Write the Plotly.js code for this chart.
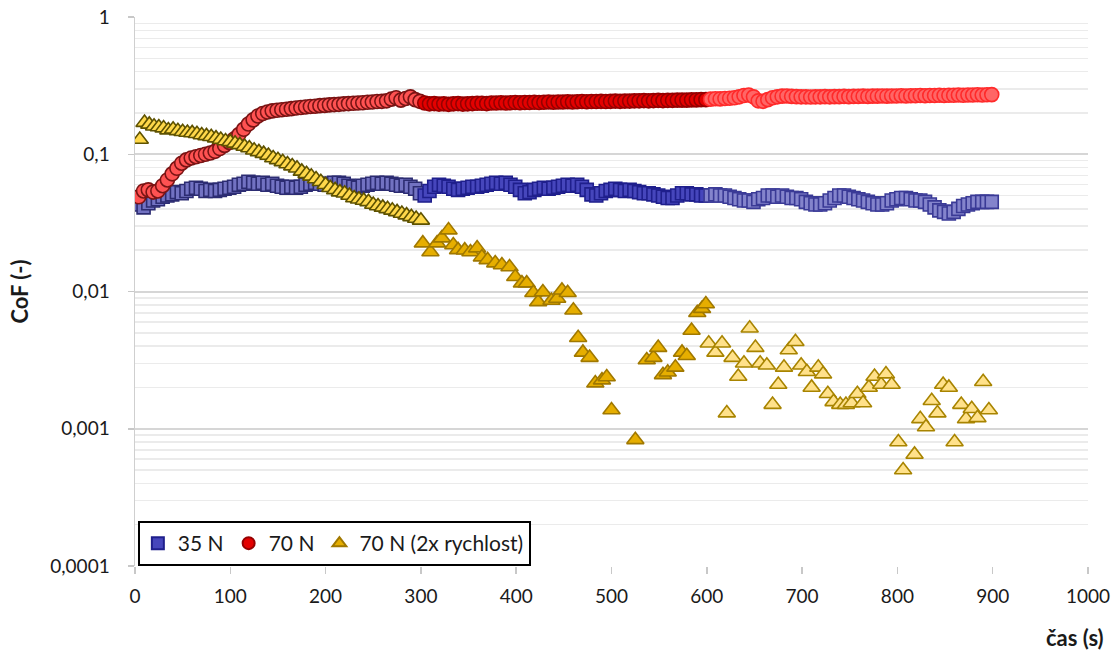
<!DOCTYPE html>
<html>
<head>
<meta charset="utf-8">
<script src="https://cdn.plot.ly/plotly-3.0.1.min.js"></script>
<style>
html,body{margin:0;padding:0;background:#fff;}
#chart{width:1116px;height:653px;}
</style>
</head>
<body>
<div id="chart"></div>
<script>
// ---- data (time in s, CoF) ----
const timeRB = [4,9,14,19,24,29,34,39,44,49,54,59,64,69,74,79,84,89,94,99,104,109,114,119,124,129,134,139,144,149,154,159,164,169,174,179,184,189,194,199,204,209,214,219,224,229,234,239,244,249,254,259,264,269,274,279,284,289,294,299,304,309,314,319,324,329,334,339,344,349,354,359,364,369,374,379,384,389,394,399,404,409,414,419,424,429,434,439,444,449,454,459,464,469,474,479,484,489,494,499,504,509,514,519,524,529,534,539,544,549,554,559,564,569,574,579,584,589,594,599,604,609,614,619,624,629,634,639,644,649,654,659,664,669,674,679,684,689,694,699,704,709,714,719,724,729,734,739,744,749,754,759,764,769,774,779,784,789,794,799,804,809,814,819,824,829,834,839,844,849,854,859,864,869,874,879,884,889,894,899];

const cof35N = [0.043,0.041,0.044,0.046,0.047,0.049,0.050,0.051,0.053,0.052,0.054,0.056,0.057,0.056,0.054,0.055,0.054,0.055,0.056,0.057,0.058,0.060,0.061,0.063,0.062,0.061,0.062,0.060,0.061,0.059,0.058,0.057,0.058,0.057,0.058,0.060,0.061,0.062,0.061,0.060,0.061,0.062,0.062,0.061,0.059,0.058,0.057,0.059,0.060,0.061,0.062,0.061,0.062,0.061,0.060,0.059,0.060,0.058,0.056,0.052,0.050,0.054,0.058,0.060,0.059,0.058,0.056,0.055,0.056,0.057,0.058,0.058,0.059,0.060,0.061,0.062,0.061,0.062,0.060,0.058,0.055,0.052,0.053,0.055,0.056,0.057,0.056,0.057,0.058,0.059,0.060,0.059,0.060,0.058,0.055,0.051,0.050,0.052,0.054,0.055,0.056,0.055,0.054,0.055,0.054,0.053,0.052,0.052,0.051,0.050,0.049,0.048,0.048,0.050,0.052,0.052,0.051,0.051,0.050,0.050,0.050,0.051,0.050,0.050,0.049,0.048,0.047,0.046,0.046,0.045,0.047,0.048,0.050,0.050,0.049,0.050,0.049,0.048,0.048,0.047,0.045,0.044,0.043,0.043,0.044,0.046,0.048,0.050,0.050,0.049,0.048,0.047,0.046,0.045,0.044,0.043,0.043,0.044,0.046,0.047,0.048,0.048,0.047,0.046,0.046,0.045,0.043,0.041,0.039,0.038,0.037,0.038,0.040,0.042,0.043,0.044,0.045,0.045,0.045,0.045];

const cof70N = [0.049,0.054,0.055,0.053,0.054,0.059,0.065,0.072,0.079,0.086,0.091,0.094,0.096,0.098,0.100,0.102,0.105,0.110,0.116,0.122,0.129,0.139,0.152,0.166,0.178,0.190,0.198,0.203,0.207,0.209,0.211,0.213,0.215,0.217,0.219,0.221,0.223,0.224,0.226,0.227,0.229,0.230,0.231,0.233,0.234,0.235,0.236,0.237,0.239,0.240,0.242,0.243,0.245,0.252,0.258,0.248,0.255,0.262,0.250,0.243,0.236,0.233,0.234,0.232,0.233,0.231,0.233,0.234,0.232,0.233,0.234,0.235,0.235,0.234,0.236,0.236,0.237,0.236,0.237,0.238,0.237,0.238,0.238,0.239,0.238,0.239,0.240,0.239,0.240,0.240,0.241,0.240,0.241,0.242,0.241,0.242,0.242,0.243,0.242,0.243,0.244,0.243,0.244,0.244,0.245,0.245,0.246,0.245,0.246,0.247,0.246,0.247,0.247,0.248,0.248,0.248,0.249,0.249,0.250,0.250,0.252,0.254,0.253,0.255,0.256,0.258,0.262,0.268,0.270,0.262,0.245,0.243,0.250,0.258,0.262,0.265,0.266,0.264,0.263,0.262,0.262,0.261,0.262,0.262,0.263,0.262,0.263,0.263,0.264,0.263,0.264,0.264,0.265,0.264,0.265,0.265,0.266,0.265,0.266,0.266,0.267,0.266,0.267,0.267,0.268,0.267,0.268,0.268,0.269,0.268,0.269,0.269,0.270,0.269,0.270,0.270,0.271,0.270,0.271,0.272];

const timeTri = [5,10,15,20,25,30,35,40,45,50,55,60,65,70,75,80,85,90,95,100,105,110,115,120,125,130,135,140,145,150,155,160,165,170,175,180,185,190,195,200,205,210,215,220,225,230,235,240,245,250,255,260,265,270,275,280,285,290,295,300,
  302,310,317,322,329,334,339,346,352,359,364,370,378,385,393,399,406,411,418,423,428,437,443,448,454,460,465,470,477,483,490,495,500,525,537,544,549,554,559,567,574,579,584,590,595,599,
  602,609,616,621,627,633,639,645,651,656,663,669,675,681,686,693,699,705,710,717,722,727,733,740,746,752,758,764,770,776,783,788,794,801,806,818,824,830,836,842,848,854,860,867,872,878,884,890,896];

const cof70N2x = [0.128,0.170,0.165,0.160,0.158,0.155,0.150,0.152,0.148,0.146,0.144,0.143,0.141,0.138,0.136,0.134,0.131,0.128,0.125,0.123,0.120,0.117,0.114,0.111,0.107,0.104,0.101,0.098,0.094,0.091,0.088,0.085,0.082,0.079,0.075,0.072,0.069,0.066,0.063,0.060,0.057,0.055,0.053,0.052,0.050,0.048,0.047,0.046,0.045,0.043,0.042,0.041,0.040,0.039,0.038,0.037,0.036,0.035,0.034,0.033,
  0.0225,0.0194,0.0225,0.0245,0.028,0.0218,0.0201,0.020,0.0194,0.0207,0.0178,0.0170,0.0161,0.0156,0.0151,0.0128,0.0115,0.0115,0.0098,0.0084,0.0099,0.0086,0.0089,0.0102,0.0098,0.0073,0.0046,0.0036,0.0033,0.00215,0.00226,0.00238,0.00137,0.00083,0.00317,0.0033,0.0039,0.00247,0.00258,0.0028,0.0036,0.0034,0.0052,0.0070,0.0075,0.0081,
  0.0042,0.0036,0.0042,0.0013,0.0033,0.0024,0.0030,0.0054,0.0039,0.0030,0.0029,0.0015,0.0021,0.0028,0.00375,0.0043,0.0029,0.0026,0.0020,0.0028,0.0025,0.0018,0.00157,0.0015,0.0015,0.00154,0.0018,0.00154,0.0020,0.0024,0.0021,0.0025,0.0021,0.0008,0.0005,0.00065,0.00118,0.00103,0.0016,0.0013,0.0021,0.0020,0.0008,0.0015,0.00118,0.0014,0.0012,0.0022,0.00137];

const seriesNames = ['35 N', '70 N', '70 N (2x rychlost)'];
const yTickVals = [0.0001, 0.001, 0.01, 0.1, 1];
const yTickText = ['0,0001', '0,001', '0,01', '0,1', '1'];
const xTickVals = [0,100,200,300,400,500,600,700,800,900,1000];

// ---- styles (three measurement blocks per series) ----
const styles = [
  {symbol:'square', size:13, seg:[
    {fill:'#7272c2', line:'#2c2c72'},
    {fill:'#4646bc', line:'#1f1f8c'},
    {fill:'#8484cc', line:'#3a3a96'}]},
  {symbol:'circle', size:14, seg:[
    {fill:'#ff5252', line:'#7a1414'},
    {fill:'#e40000', line:'#960000'},
    {fill:'#ff6666', line:'#ff2a2a'}]},
  {symbol:'triangle-up', size:15, seg:[
    {fill:'#ffd84a', line:'#5e5200'},
    {fill:'#e6ae00', line:'#a07800'},
    {fill:'#ffe18a', line:'#a88400'}]}
];
const segOf = t => (t <= 300 ? 0 : (t <= 600 ? 1 : 2));

const sources = [[timeRB, cof35N], [timeRB, cof70N], [timeTri, cof70N2x]];
const traces = [];
sources.forEach((src, si) => {
  const st = styles[si];
  for (let s = 0; s < 3; s++) {
    const xs = [], ys = [];
    src[0].forEach((t, i) => { if (segOf(t) === s) { xs.push(t); ys.push(src[1][i]); } });
    traces.push({
      type:'scatter', mode:'markers', x: xs, y: ys,
      name: seriesNames[si], legendgroup: 'g'+si, showlegend: s === 1,
      marker:{symbol: st.symbol, size: st.size, color: st.seg[s].fill,
              line:{color: st.seg[s].line, width: 1.6}},
      hoverinfo:'x+y'
    });
  }
});

const FONT = 'Lato, "Open Sans", sans-serif';
const layout = {
  width:1116, height:653,
  margin:{l:135, r:28, t:17, b:87},
  paper_bgcolor:'#ffffff', plot_bgcolor:'#ffffff',
  font:{family:FONT, size:19, color:'#1a1a1a'},
  showlegend:true,
  legend:{orientation:'h', x:0.003, y:0.0, xanchor:'left', yanchor:'bottom',
          bgcolor:'#ffffff', bordercolor:'#000000', borderwidth:2,
          font:{family:FONT, size:21, color:'#1a1a1a'},
          itemsizing:'constant', tracegroupgap:0},
  xaxis:{range:[0,1000], tickvals:xTickVals, ticks:'outside', ticklen:7, tickwidth:1.5,
         tickcolor:'#c8c8c8', showgrid:false, zeroline:false, showline:false,
         ticklabelstandoff:6, tickfont:{family:FONT, size:19, color:'#1a1a1a'}},
  yaxis:{type:'log', range:[-4, 0], tickvals:yTickVals, ticktext:yTickText,
         ticks:'outside', ticklen:6, tickwidth:1.5, tickcolor:'#c8c8c8',
         showgrid:true, gridcolor:'#d6d6d6', gridwidth:2,
         showline:true, linecolor:'#cfcfcf', linewidth:1.5, zeroline:false,
         ticklabelstandoff:14, tickfont:{family:FONT, size:19, color:'#1a1a1a'},
         minor:{dtick:'D1', showgrid:true, gridcolor:'#ebebeb', gridwidth:1.5, ticks:''},
         title:{text:'<b>CoF (-)</b>', standoff:15, font:{family:FONT, size:22, color:'#1a1a1a'}}},
  annotations:[{text:'<b>čas (s)</b>', xref:'paper', yref:'paper', x:1.0, y:0, xanchor:'right',
                yanchor:'top', yshift:-56, xshift:18, showarrow:false,
                font:{family:FONT, size:22, color:'#1a1a1a'}}]
};

Plotly.newPlot('chart', traces, layout, {displayModeBar:false, staticPlot:true});
</script>
</body>
</html>
